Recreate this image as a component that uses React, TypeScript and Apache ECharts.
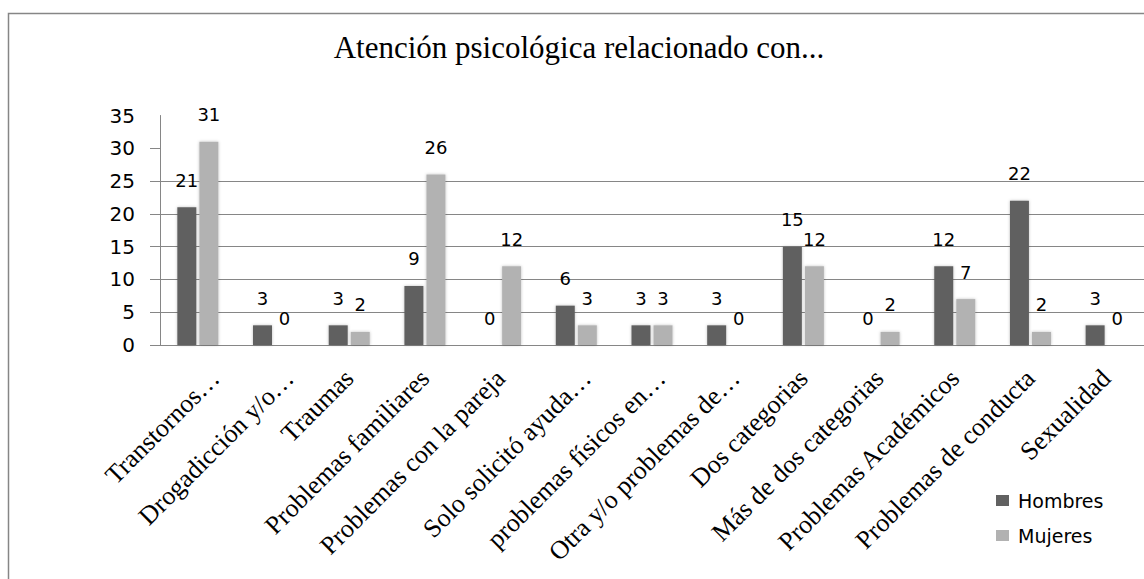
import React, { useEffect, useRef } from "react";
import * as echarts from "echarts";

const categories = [
  "Transtornos…",
  "Drogadicción y/o…",
  "Traumas",
  "Problemas familiares",
  "Problemas con la pareja",
  "Solo solicitó ayuda…",
  "problemas físicos en…",
  "Otra y/o problemas de…",
  "Dos categorias",
  "Más de dos categorias",
  "Problemas Académicos",
  "Problemas de conducta",
  "Sexualidad",
];
const truncated = [true, true, false, false, false, true, true, true, false, false, false, false, false];
const hombres = [21, 3, 3, 9, 0, 6, 3, 3, 15, 0, 12, 22, 3];
const mujeres = [31, 0, 2, 26, 12, 3, 3, 0, 12, 2, 7, 2, 0];
const yMin = 0;
const yMax = 35;
const yInterval = 5;
const tickValues = [0, 5, 10, 15, 20, 25, 30];
const titleText = "Atención psicológica relacionado con...";
const seriesNames = ["Hombres", "Mujeres"];

const SANS = "'DejaVu Sans', sans-serif";
const SERIF = "'Liberation Serif', 'Times New Roman', serif";
const GRAY = "#868686";

export default function App() {
  const ref = useRef<HTMLDivElement>(null);
  useEffect(() => {
    if (!ref.current) return;
    const chart = echarts.init(ref.current, null, { renderer: "svg" });
    const gridBase = { top: 115.5, height: 229.5, width: 996 };
    const labelStyle = {
      interval: 0,
      rotate: 45,
      margin: 29,
      fontFamily: SERIF,
      fontSize: 26,
      color: "#000",
    };
    const barLabel = {
      show: true,
      position: "top",
      distance: 18,
      fontFamily: SANS,
      fontSize: 18,
      color: "#000",
    };
    const shadow = {
      shadowBlur: 3,
      shadowColor: "rgba(0,0,0,0.25)",
      shadowOffsetX: 0,
      shadowOffsetY: 0,
    };
    chart.setOption({
      animation: false,
      backgroundColor: "#fff",
      graphic: [
        {
          type: "rect",
          shape: { x: 8.5, y: 13.5, width: 1300, height: 800 },
          style: { fill: "none", stroke: GRAY, lineWidth: 1.5 },
          silent: true,
          z: -10,
        },
        {
          type: "text",
          x: 579,
          y: 32,
          style: {
            text: titleText,
            font: `31px ${SERIF}`,
            fill: "#000",
            textAlign: "center",
            textVerticalAlign: "top",
          },
        },
      ],
      legend: {
        orient: "vertical",
        left: 991,
        top: 486,
        icon: "rect",
        itemWidth: 13,
        itemHeight: 11,
        itemGap: 16,
        textStyle: { fontFamily: SANS, fontSize: 19, color: "#000", padding: [0, 0, 0, 4] },
        data: seriesNames,
      },
      grid: [
        { left: 160, ...gridBase },
        { left: 178, ...gridBase },
      ],
      xAxis: [
        {
          type: "category",
          gridIndex: 0,
          data: categories,
          axisLine: { show: true, lineStyle: { color: GRAY, width: 1 } },
          axisTick: { show: false },
          axisLabel: {
            ...labelStyle,
            formatter: (v: string, i: number) => (truncated[i] ? "" : v),
          },
        },
        {
          type: "category",
          gridIndex: 1,
          data: categories,
          axisLine: { show: false },
          axisTick: { show: false },
          axisLabel: {
            ...labelStyle,
            formatter: (v: string, i: number) => (truncated[i] ? v : ""),
          },
        },
      ],
      yAxis: [
        {
          type: "value",
          gridIndex: 0,
          min: yMin,
          max: yMax,
          interval: yInterval,
          axisLine: { show: true, lineStyle: { color: GRAY, width: 1 } },
          axisTick: {
            show: true,
            length: 10,
            customValues: tickValues,
            lineStyle: { color: GRAY, width: 1 },
          },
          splitLine: {
            show: true,
            showMaxLine: false,
            lineStyle: { color: GRAY, width: 1 },
          },
          axisLabel: {
            margin: 25,
            fontFamily: SANS,
            fontSize: 20,
            color: "#000",
          },
        },
        {
          type: "value",
          gridIndex: 1,
          min: yMin,
          max: yMax,
          interval: yInterval,
          show: false,
        },
      ],
      series: [
        {
          name: seriesNames[0],
          type: "bar",
          xAxisIndex: 0,
          yAxisIndex: 0,
          data: hombres,
          barWidth: 19,
          barGap: "16%",
          itemStyle: { color: "#616161", ...shadow },
          label: barLabel,
        },
        {
          name: seriesNames[1],
          type: "bar",
          xAxisIndex: 0,
          yAxisIndex: 0,
          data: mujeres,
          barWidth: 19,
          barGap: "16%",
          itemStyle: { color: "#b2b2b2", ...shadow },
          label: barLabel,
        },
      ],
    });
    return () => chart.dispose();
  }, []);
  return (
    <div
      ref={ref}
      style={{ position: "fixed", left: 0, top: 0, width: 1144, height: 579 }}
    />
  );
}
